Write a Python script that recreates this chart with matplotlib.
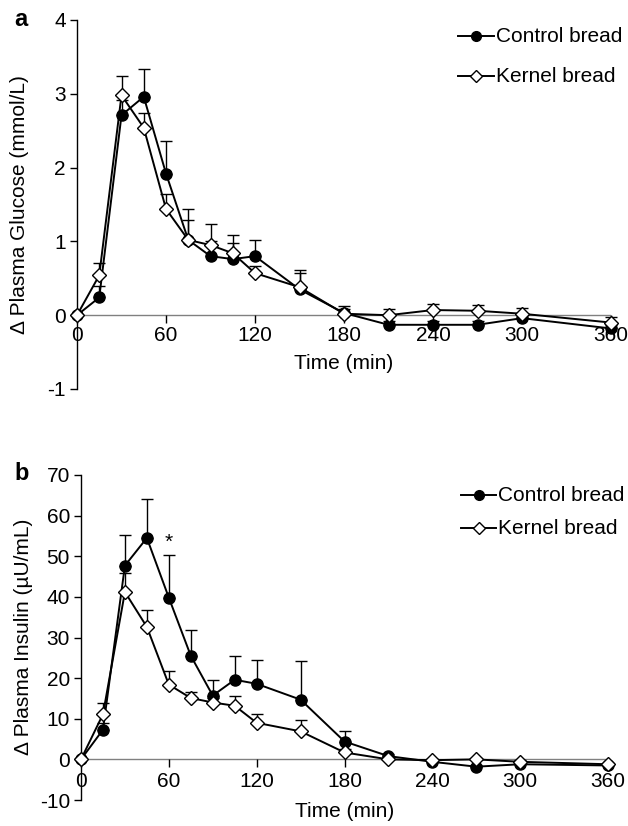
import matplotlib
matplotlib.use("Agg")
import matplotlib.pyplot as plt
import numpy as np
from matplotlib.lines import Line2D
from matplotlib.transforms import offset_copy

plt.rcParams['font.family'] = ['Liberation Sans', 'DejaVu Sans']
plt.rcParams['axes.unicode_minus'] = False

time = [0, 15, 30, 45, 60, 75, 90, 105, 120, 150, 180, 210, 240, 270, 300, 360]
xticks = [0, 60, 120, 180, 240, 300, 360]
legend_labels = ['Control bread', 'Kernel bread']

# Panel a: glucose (mmol/L)
glu_control = [0, 0.24, 2.71, 2.96, 1.92, 1.02, 0.80, 0.76, 0.80, 0.35, 0.03, -0.13, -0.13, -0.13, -0.04, -0.18]
glu_control_err = [0, 0.15, 0.20, 0.38, 0.44, 0.42, 0.20, 0.22, 0.22, 0.22, 0.09, 0.05, 0.05, 0.05, 0.05, 0.05]
glu_kernel = [0, 0.54, 2.98, 2.54, 1.44, 1.02, 0.95, 0.84, 0.57, 0.38, 0.02, 0.00, 0.07, 0.06, 0.02, -0.10]
glu_kernel_err = [0, 0.17, 0.26, 0.20, 0.20, 0.27, 0.28, 0.25, 0.10, 0.23, 0.07, 0.09, 0.08, 0.08, 0.08, 0.08]

# Panel b: insulin (µU/mL)
ins_control = [0, 7.3, 47.7, 54.5, 39.8, 25.5, 15.7, 19.6, 18.6, 14.7, 4.4, 0.8, -0.6, -1.8, -1.2, -1.5]
ins_control_err = [0, 1.6, 7.6, 9.5, 10.6, 6.3, 3.9, 5.9, 5.8, 9.4, 2.5, 0.5, 0.5, 0.5, 0.5, 0.5]
ins_kernel = [0, 11.1, 41.2, 32.6, 18.4, 15.1, 14.0, 13.2, 9.0, 6.9, 1.7, 0.0, -0.2, 0.0, -0.6, -1.2]
ins_kernel_err = [0, 2.8, 4.7, 4.1, 3.4, 1.6, 1.2, 2.4, 2.1, 2.7, 0.8, 0.4, 0.4, 0.4, 0.4, 0.4]

W, H = 628, 826
FS = 15
fig = plt.figure(figsize=(W / 100, H / 100), dpi=100)

def axes_px(left, right, top, bottom):
    return fig.add_axes([left / W, 1 - bottom / H, (right - left) / W, (bottom - top) / H])

CTRL = dict(color='black', lw=1.4, marker='o', ms=8, mfc='black', mec='black')
KERN = dict(color='black', lw=1.4, marker='D', ms=7, mfc='white', mec='black', mew=1.0)

def draw(ax, yc, yce, yk, yke, ylim, yticks, lab_dy, time_dy):
    ax.set_xlim(0, 360)
    ax.set_ylim(*ylim)
    for s in ['top', 'right', 'bottom']:
        ax.spines[s].set_visible(False)
    ax.spines['left'].set_linewidth(1.0)
    ax.axhline(0, color='#808080', lw=1.0, zorder=1)
    ax.set_yticks(yticks)
    ax.set_xticks([])
    ax.tick_params(axis='y', direction='out', length=5, width=1, labelsize=FS, pad=3)
    z = np.zeros(len(time))
    ax.errorbar(time, yc, yerr=[z, yce], fmt='none', ecolor='black', elinewidth=1.0,
                capsize=4, capthick=1.0, zorder=2, clip_on=False)
    ax.errorbar(time, yk, yerr=[z, yke], fmt='none', ecolor='black', elinewidth=1.0,
                capsize=4, capthick=1.0, zorder=2, clip_on=False)
    ax.plot(time, yc, '-', zorder=4, clip_on=False, **CTRL)
    ax.plot(time, yk, '-', zorder=5, clip_on=False, **KERN)
    lab_tr = offset_copy(ax.transData, fig=fig, y=-lab_dy, units='dots')
    time_tr = offset_copy(ax.transData, fig=fig, y=-time_dy, units='dots')
    # downward tick marks on the zero line, with labels below
    ax.plot(xticks, [0] * len(xticks), linestyle='none', color='black',
            marker=[(0, 0), (0, -1)], ms=12, mew=1.0, clip_on=False, zorder=1)
    for xt in xticks:
        ax.text(xt, 0, str(xt), ha='center', va='top', fontsize=FS, transform=lab_tr)
    ax.text(180, 0, 'Time (min)', ha='center', va='top', fontsize=FS, transform=time_tr)

def legend_rows(rows):
    for (x0, x1, y, style, label) in rows:
        yy = 1 - y / H
        fig.add_artist(Line2D([x0 / W, x1 / W], [yy, yy], color='black', lw=1.4))
        st = dict(style)
        st.pop('lw', None)
        st['ms'] = 7 if st['marker'] == 'o' else 6
        fig.add_artist(Line2D([(x0 + x1) / 2 / W], [yy], linestyle='none', **st))
        fig.text((x1 + 2) / W, yy, label, fontsize=FS, ha='left', va='center')

# Panel a
axa = axes_px(77, 611, 20, 389)
draw(axa, glu_control, glu_control_err, glu_kernel, glu_kernel_err, (-1, 4),
     [-1, 0, 1, 2, 3, 4], 11, 39)
axa.set_ylabel('Δ Plasma Glucose (mmol/L)', fontsize=FS)
axa.yaxis.set_label_coords(29 / W, 1 - 205 / H, transform=fig.transFigure)
fig.text(21 / W, 1 - 20 / H, 'a', fontsize=17, fontweight='bold', ha='center', va='center')
legend_rows([(458, 494, 36, CTRL, legend_labels[0]),
             (458, 494, 76, KERN, legend_labels[1])])

# Panel b
axb = axes_px(81, 608, 475, 800)
draw(axb, ins_control, ins_control_err, ins_kernel, ins_kernel_err, (-10, 70),
     [-10, 0, 10, 20, 30, 40, 50, 60, 70], 13, 43)
axb.set_ylabel('Δ Plasma Insulin (µU/mL)', fontsize=FS)
axb.yaxis.set_label_coords(33 / W, 1 - 637 / H, transform=fig.transFigure)
fig.text(22 / W, 1 - 474 / H, 'b', fontsize=17, fontweight='bold', ha='center', va='center')
axb.text(60, 53.5, '*', ha='center', va='center', fontsize=15)
legend_rows([(461, 496, 495, CTRL, legend_labels[0]),
             (461, 496, 528, KERN, legend_labels[1])])

fig.savefig('out.png', dpi=100)
